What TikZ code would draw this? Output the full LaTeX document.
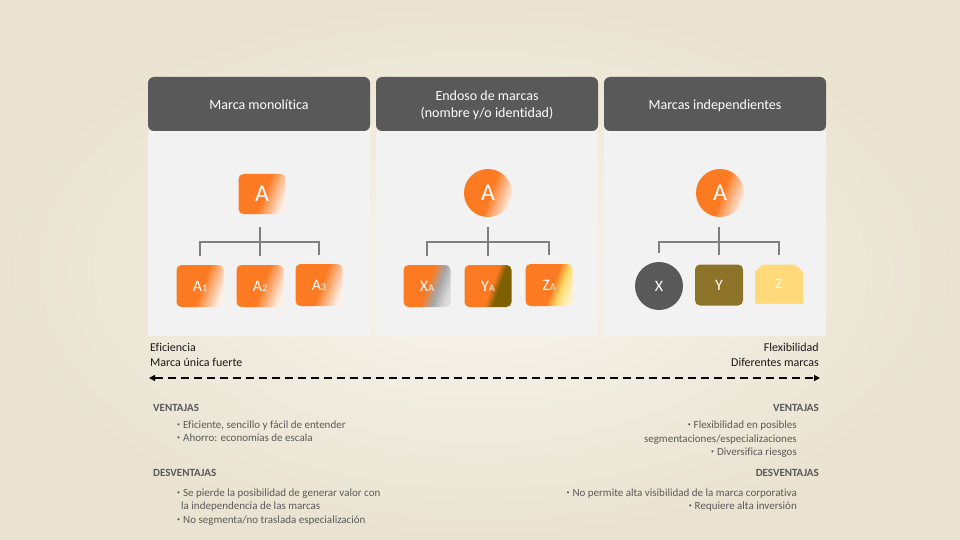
\documentclass[tikz,border=0pt]{standalone}
\usepackage{fontspec}
\setmainfont{Carlito}[Ligatures=NoCommon]
\usetikzlibrary{shapes.geometric,shapes.misc,arrows.meta}
\definecolor{bgin}{HTML}{F7F5EE}
\definecolor{bgout}{HTML}{EAE3D1}
\definecolor{hdr}{HTML}{595959}
\definecolor{panel}{HTML}{F2F2F2}
\definecolor{bor}{HTML}{FB7A22}
\definecolor{linec}{HTML}{7F7F7F}
\definecolor{olivec}{HTML}{8C7328}
\definecolor{goldc}{HTML}{FFD97A}
\definecolor{darkc}{HTML}{595959}
\definecolor{txtg}{HTML}{595959}
\definecolor{greyfade}{HTML}{A6A6A6}
\definecolor{yolk}{HTML}{7F6000}
\definecolor{yell}{HTML}{FFD966}
\pgfdeclarehorizontalshading{orwhite}{100bp}{color(0bp)=(bor); color(52bp)=(bor); color(75bp)=(bor!12!white); color(100bp)=(bor!12!white)}
\pgfdeclarehorizontalshading{orgrey}{100bp}{color(0bp)=(bor); color(50bp)=(bor); color(62bp)=(greyfade); color(75bp)=(greyfade!40!white); color(100bp)=(greyfade!40!white)}
\pgfdeclarehorizontalshading{orolive}{100bp}{color(0bp)=(bor); color(54bp)=(bor); color(62bp)=(yolk); color(100bp)=(yolk)}
\pgfdeclarehorizontalshading{oryellow}{100bp}{color(0bp)=(bor); color(54bp)=(bor); color(64bp)=(yell); color(75bp)=(yell!40!white); color(100bp)=(yell!40!white)}
\newcommand{\mysub}[1]{{\fontsize{10}{10}\selectfont #1}}
\newcommand{\hdrtxt}[1]{\raisebox{-2pt}[\height][\depth]{\begin{tabular}{@{}c@{}}#1\end{tabular}}}
\newcommand{\bul}{\raisebox{0.25ex}{\fontsize{6}{6}\selectfont •}\hspace{3pt}}
\begin{document}
\begin{tikzpicture}[x=1pt,y=-1pt,
  hdrbox/.style={fill=hdr, rounded corners=6, minimum width=222, minimum height=54, inner sep=0, text=white, font=\fontsize{14}{17}\selectfont},
  panelbox/.style={fill=panel, minimum width=222, minimum height=205, inner sep=0},
  topsq/.style={shading=orwhite, shading angle=-20, rounded corners=5, minimum width=47, minimum height=40, inner sep=0, text=white, font=\fontsize{24}{24}\selectfont},
  topci/.style={circle, shading=orwhite, shading angle=-20, minimum size=48, inner sep=0, text=white, font=\fontsize{24}{24}\selectfont},
  child/.style={rounded corners=5, minimum width=47, minimum height=42, inner sep=0, text=white, font=\fontsize{16}{16}\selectfont},
  tree/.style={draw=linec, line width=1.1},
  side/.style={font=\fontsize{12}{14}\selectfont, text=black!90, inner sep=0},
  head/.style={font=\fontsize{11}{13}\selectfont\bfseries, text=txtg, inner sep=0},
  item/.style={font=\fontsize{11}{13}\selectfont, text=txtg, inner sep=0}
]
\useasboundingbox (0,0) rectangle (960,540);
\shade[inner color=bgin, outer color=bgout] (0,0) rectangle (960,540);

% panels
\node[panelbox] (b1) at (259,233.5) {};
\node[panelbox] (b2) at (487,233.5) {};
\node[panelbox] (b3) at (715,233.5) {};
\node[hdrbox] (h1) at (259,104) {\hdrtxt{Marca monolítica}};
\node[hdrbox] (h2) at (487,104) {\hdrtxt{Endoso de marcas\\(nombre y/o identidad)}};
\node[hdrbox] (h3) at (715,104) {\hdrtxt{Marcas independientes}};

% panel 1
\node[topsq] (p1) at (262,194) {A};
\node[child, shading=orwhite, shading angle=-20] (a1) at (200,286) {A\mysub{1}};
\node[child, shading=orwhite, shading angle=-20] (a2) at (260,286) {A\mysub{2}};
\node[child, shading=orwhite, shading angle=-20] (a3) at (319,285) {A\mysub{3}};
\coordinate (j1) at (260,242);
\draw[tree, shorten <=13] (p1.south -| j1) -- (j1);
\draw[tree, shorten >=9] (j1) -| (a1.north);
\draw[tree, shorten >=9] (j1) -| (a3.north);
\draw[tree, shorten >=9] (j1) -- (a2.north);

% panel 2
\node[topci] (p2) at (488,193) {A};
\node[child, shading=orgrey, shading angle=-20] (x2) at (427,286) {X\mysub{A}};
\node[child, shading=orolive, shading angle=-20] (y2) at (488,286) {Y\mysub{A}};
\node[child, shading=oryellow, shading angle=-20] (z2) at (549,285) {Z\mysub{A}};
\coordinate (j2) at (488,242);
\draw[tree, shorten <=10] (p2.south) -- (j2);
\draw[tree, shorten >=9] (j2) -| (x2.north);
\draw[tree, shorten >=9] (j2) -| (z2.north);
\draw[tree, shorten >=9] (j2) -- (y2.north);

% panel 3
\node[topci] (p3) at (720,193) {A};
\node[circle, fill=darkc, minimum size=48, inner sep=0, text=white, font=\fontsize{16}{16}\selectfont] (x3) at (659,286) {X};
\node[child, fill=olivec, minimum width=48, minimum height=41] (y3) at (719,285) {Y};
\node[chamfered rectangle, chamfered rectangle corners={north west,north east}, chamfered rectangle xsep=5pt, fill=goldc, minimum width=48, minimum height=39, inner sep=0, text=white, font=\fontsize{14}{14}\selectfont] (z3) at (779,284) {Z};
\coordinate (j3) at (719,242);
\draw[tree, shorten <=10] (p3.south -| j3) -- (j3);
\draw[tree, shorten >=9] (j3) -| (x3.north);
\draw[tree, shorten >=9] (j3) -| (z3.north);
\draw[tree, shorten >=9] (j3) -- (y3.north);

% scale
\node[side, anchor=base west] (l1) at (150,351) {Eficiencia};
\node[side, anchor=base west] (l2) at (150,366) {Marca única fuerte};
\node[side, anchor=base east] (r1) at (819,351) {Flexibilidad};
\node[side, anchor=base east] (r2) at (819,366) {Diferentes marcas};
\coordinate (aL) at (149,378);
\coordinate (aR) at (820,378);
\draw[line width=1.8, dash pattern=on 8 off 5, {Triangle[length=6,width=6]}-{Triangle[length=6,width=6]}] (aL) -- (aR);

% left texts
\node[head, anchor=base west] (vl) at (153,411) {VENTAJAS};
\node[item, anchor=base west] (vl1) at (177,428) {\bul Eficiente, sencillo y fácil de entender};
\node[item, anchor=base west] (vl2) at (177,441) {\bul Ahorro: economías de escala};
\node[head, anchor=base west] (dl) at (153,476) {DESVENTAJAS};
\node[item, anchor=base west] (dl1) at (177,496) {\bul Se pierde la posibilidad de generar valor con};
\node[item, anchor=base west] (dl1b) at (181,509) {la independencia de las marcas};
\node[item, anchor=base west] (dl2) at (177,523) {\bul No segmenta/no traslada especialización};

% right texts
\node[head, anchor=base east] (vr) at (819,411) {VENTAJAS};
\node[item, anchor=base east] (vr1) at (797,428) {\bul Flexibilidad en posibles};
\node[item, anchor=base east] (vr1b) at (797,442) {segmentaciones/especializaciones};
\node[item, anchor=base east] (vr2) at (797,455) {\bul Diversifica riesgos};
\node[head, anchor=base east] (dr) at (819,476) {DESVENTAJAS};
\node[item, anchor=base east] (dr1) at (797,496) {\bul No permite alta visibilidad de la marca corporativa};
\node[item, anchor=base east] (dr2) at (797,509) {\bul Requiere alta inversión};
\end{tikzpicture}
\end{document}
